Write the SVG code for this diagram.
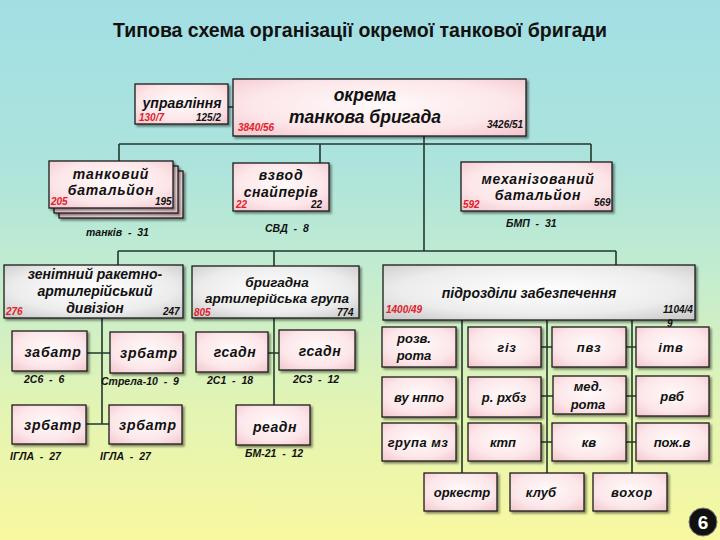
<svg xmlns="http://www.w3.org/2000/svg" width="720" height="540" viewBox="0 0 720 540">
<defs>
<linearGradient id="bg" x1="0" y1="0" x2="0" y2="1">
<stop offset="0" stop-color="#a2dfe4"/>
<stop offset="0.3" stop-color="#ace3dc"/>
<stop offset="0.5" stop-color="#c2ecd0"/>
<stop offset="0.75" stop-color="#e2f4b4"/>
<stop offset="1" stop-color="#f8f8a0"/>
</linearGradient>
<radialGradient id="pink" cx="0.5" cy="0.45" r="0.75">
<stop offset="0" stop-color="#fffafa"/>
<stop offset="0.6" stop-color="#fce6e9"/>
<stop offset="1" stop-color="#f2c4cb"/>
</radialGradient>
<radialGradient id="grey" cx="0.5" cy="0.45" r="0.75">
<stop offset="0" stop-color="#ffffff"/>
<stop offset="0.6" stop-color="#ececec"/>
<stop offset="1" stop-color="#c4c4c4"/>
</radialGradient>
<filter id="sh" x="-10%" y="-10%" width="130%" height="140%">
<feDropShadow dx="2" dy="2" stdDeviation="1.2" flood-color="#000" flood-opacity="0.45"/>
</filter>
</defs>
<style>
.p{fill:url(#pink);stroke:#1a1a1a;stroke-width:1.3;filter:url(#sh)}
.g{fill:url(#grey);stroke:#1a1a1a;stroke-width:1.3;filter:url(#sh)}
.t{font-family:"Liberation Sans",Arial,sans-serif;font-weight:bold;font-style:italic;fill:#111;text-anchor:middle}
.n{font-family:"Liberation Sans",Arial,sans-serif;font-weight:bold;font-style:italic;font-size:10px;fill:#111}
.r{fill:#e0202a}
.l{font-family:"Liberation Sans",Arial,sans-serif;font-weight:bold;font-style:italic;font-size:10.5px;fill:#111;white-space:pre}
.c{stroke:#22392f;stroke-width:1.6;fill:none}
</style>
<rect x="0" y="0" width="720" height="540" fill="url(#bg)"/>
<text x="360" y="37" font-family="Liberation Sans,Arial,sans-serif" font-weight="bold" font-size="19.5" text-anchor="middle" fill="#111">Типова схема організації окремої танкової бригади</text>

<g id="connectors" class="c">
<path d="M228 107 H233"/>
<path d="M424 136 V251"/>
<path d="M119 144 H591 M119 144 V161 M320 144 V163 M591 144 V162"/>
<path d="M118 251 H616 M118 251 V265 M274 251 V266 M616 251 V265"/>
<path d="M102 318 V424 M87 353 H110 M86 424 H109"/>
<path d="M274 318 V405 M268 353 H279"/>
<path d="M462 320 V473 M547 320 V473 M632 320 V473"/>
<path d="M541 347 H552 M541 396 H553 M541 442 H552"/>
<path d="M626 347 H636 M626 396 H636 M626 442 H636"/>
</g>

<g id="upravlinnia">
<rect class="p" x="135" y="84" width="93" height="40"/>
<text class="t" x="182" y="108" font-size="14">управління</text>
<text class="n r" x="139" y="121">130/7</text>
<text class="n" x="196" y="121">125/2</text>
</g>

<g id="brigada">
<rect class="p" x="233" y="79" width="293" height="57"/>
<text class="t" x="365" y="101" font-size="17.5">окрема</text>
<text class="t" x="365" y="123" font-size="17.5">танкова бригада</text>
<text class="n r" x="238" y="131">3840/56</text>
<text class="n" x="487" y="128">3426/51</text>
</g>

<g id="tank-bat">
<rect class="p" x="59" y="171" width="124" height="47"/>
<rect class="p" x="54" y="166" width="124" height="47"/>
<rect class="p" x="49" y="161" width="124" height="47"/>
<text class="t" x="111" y="179" font-size="14" letter-spacing="0.8">танковий</text>
<text class="t" x="111" y="195" font-size="14" letter-spacing="0.8">батальйон</text>
<text class="n r" x="51" y="205">205</text>
<text class="n" x="155" y="205">195</text>
<text class="l" x="86" y="236">танків  -  31</text>
</g>

<g id="snipers">
<rect class="p" x="233" y="163" width="96" height="48"/>
<text class="t" x="281" y="180" font-size="14" letter-spacing="0.8">взвод</text>
<text class="t" x="281" y="197" font-size="14" letter-spacing="0.5">снайперів</text>
<text class="n r" x="236" y="208">22</text>
<text class="n" x="311" y="208">22</text>
<text class="l" x="265" y="232">СВД  -  8</text>
</g>

<g id="mech-bat">
<rect class="p" x="461" y="162" width="151" height="49"/>
<text class="t" x="538" y="184" font-size="14" letter-spacing="0.8">механізований</text>
<text class="t" x="538" y="200" font-size="14" letter-spacing="0.8">батальйон</text>
<text class="n r" x="463" y="208">592</text>
<text class="n" x="594" y="206">569</text>
<text class="l" x="506" y="227">БМП  -  31</text>
</g>

<g id="zrad">
<rect class="g" x="4" y="265" width="179" height="53"/>
<text class="t" x="95" y="279" font-size="14">зенітний ракетно-</text>
<text class="t" x="95" y="296" font-size="14">артилерійський</text>
<text class="t" x="95" y="313" font-size="14">дивізіон</text>
<text class="n r" x="6" y="315">276</text>
<text class="n" x="163" y="315">247</text>
</g>

<g id="bag">
<rect class="g" x="192" y="266" width="167" height="52"/>
<text class="t" x="277" y="287" font-size="13.5">бригадна</text>
<text class="t" x="277" y="303" font-size="13.5">артилерійська група</text>
<text class="n r" x="194" y="316">805</text>
<text class="n" x="337" y="316">774</text>
</g>

<g id="support">
<rect class="g" x="383" y="265" width="312" height="55"/>
<text class="t" x="529" y="298" font-size="14">підрозділи забезпечення</text>
<text class="n r" x="386" y="313">1400/49</text>
<text class="n" x="663" y="313">1104/4</text>
<text class="n" x="667" y="327">9</text>
</g>

<g id="zabatr">
<rect class="p" x="12" y="331" width="75" height="40"/>
<text class="t" x="53" y="357" font-size="14" letter-spacing="0.8">забатр</text>
<text class="l" x="24" y="383">2С6  -  6</text>
</g>
<g id="zrbatr1">
<rect class="p" x="110" y="332" width="73" height="41"/>
<text class="t" x="149" y="358" font-size="14" letter-spacing="0.8">зрбатр</text>
<text class="l" x="101" y="385">Стрела-10  -  9</text>
</g>
<g id="zrbatr2">
<rect class="p" x="12" y="405" width="74" height="39"/>
<text class="t" x="53" y="430" font-size="14" letter-spacing="0.8">зрбатр</text>
<text class="l" x="10" y="460">ІГЛА  -  27</text>
</g>
<g id="zrbatr3">
<rect class="p" x="109" y="405" width="73" height="39"/>
<text class="t" x="148" y="430" font-size="14" letter-spacing="0.8">зрбатр</text>
<text class="l" x="100" y="460">ІГЛА  -  27</text>
</g>

<g id="gsadn1">
<rect class="p" x="196" y="332" width="72" height="40"/>
<text class="t" x="235" y="357" font-size="14" letter-spacing="0.5">гсадн</text>
<text class="l" x="207" y="384">2С1  -  18</text>
</g>
<g id="gsadn2">
<rect class="p" x="279" y="330" width="76" height="40"/>
<text class="t" x="320" y="356" font-size="14" letter-spacing="0.5">гсадн</text>
<text class="l" x="293" y="383">2С3  -  12</text>
</g>
<g id="readn">
<rect class="p" x="236" y="405" width="74" height="40"/>
<text class="t" x="275" y="432" font-size="14" letter-spacing="0.5">реадн</text>
<text class="l" x="245" y="457">БМ-21  -  12</text>
</g>

<g id="rozv-rota">
<rect class="p" x="382" y="327" width="74" height="40"/>
<text class="t" x="414" y="343" font-size="13">розв.</text>
<text class="t" x="414" y="360" font-size="13">рота</text>
</g>
<g id="giz">
<rect class="p" x="468" y="327" width="73" height="40"/>
<text class="t" x="507" y="352" font-size="13" letter-spacing="0.8">гіз</text>
</g>
<g id="pvz">
<rect class="p" x="552" y="327" width="74" height="40"/>
<text class="t" x="589" y="352" font-size="13" letter-spacing="0.8">пвз</text>
</g>
<g id="itv">
<rect class="p" x="636" y="327" width="73" height="40"/>
<text class="t" x="671" y="352" font-size="13" letter-spacing="0.8">ітв</text>
</g>

<g id="vu-nppo">
<rect class="p" x="382" y="377" width="74" height="40"/>
<text class="t" x="419" y="402" font-size="13">ву нппо</text>
</g>
<g id="r-rhbz">
<rect class="p" x="468" y="377" width="73" height="40"/>
<text class="t" x="504" y="402" font-size="13">р. рхбз</text>
</g>
<g id="med-rota">
<rect class="p" x="553" y="376" width="73" height="38"/>
<text class="t" x="588" y="391" font-size="13">мед.</text>
<text class="t" x="588" y="409" font-size="13">рота</text>
</g>
<g id="rvb">
<rect class="p" x="636" y="376" width="73" height="40"/>
<text class="t" x="672" y="401" font-size="13">рвб</text>
</g>

<g id="grupa-mz">
<rect class="p" x="382" y="423" width="74" height="38"/>
<text class="t" x="418" y="447" font-size="13" letter-spacing="0.5">група мз</text>
</g>
<g id="ktp">
<rect class="p" x="468" y="423" width="73" height="38"/>
<text class="t" x="503" y="447" font-size="13">ктп</text>
</g>
<g id="kv">
<rect class="p" x="552" y="423" width="74" height="38"/>
<text class="t" x="589" y="447" font-size="13">кв</text>
</g>
<g id="pozh-v">
<rect class="p" x="636" y="423" width="73" height="38"/>
<text class="t" x="672" y="447" font-size="13">пож.в</text>
</g>

<g id="orkestr">
<rect class="p" x="424" y="473" width="73" height="38"/>
<text class="t" x="462" y="497" font-size="13">оркестр</text>
</g>
<g id="klub">
<rect class="p" x="510" y="473" width="74" height="38"/>
<text class="t" x="541" y="497" font-size="13">клуб</text>
</g>
<g id="vohor">
<rect class="p" x="593" y="473" width="74" height="38"/>
<text class="t" x="632" y="497" font-size="13" letter-spacing="0.8">вохор</text>
</g>

<g id="badge">
<circle cx="703" cy="522" r="14" fill="#111" stroke="#777" stroke-width="1"/>
<text x="703" y="529" font-family="Liberation Sans,Arial,sans-serif" font-weight="bold" font-size="19" text-anchor="middle" fill="#fff">6</text>
</g>
</svg>
